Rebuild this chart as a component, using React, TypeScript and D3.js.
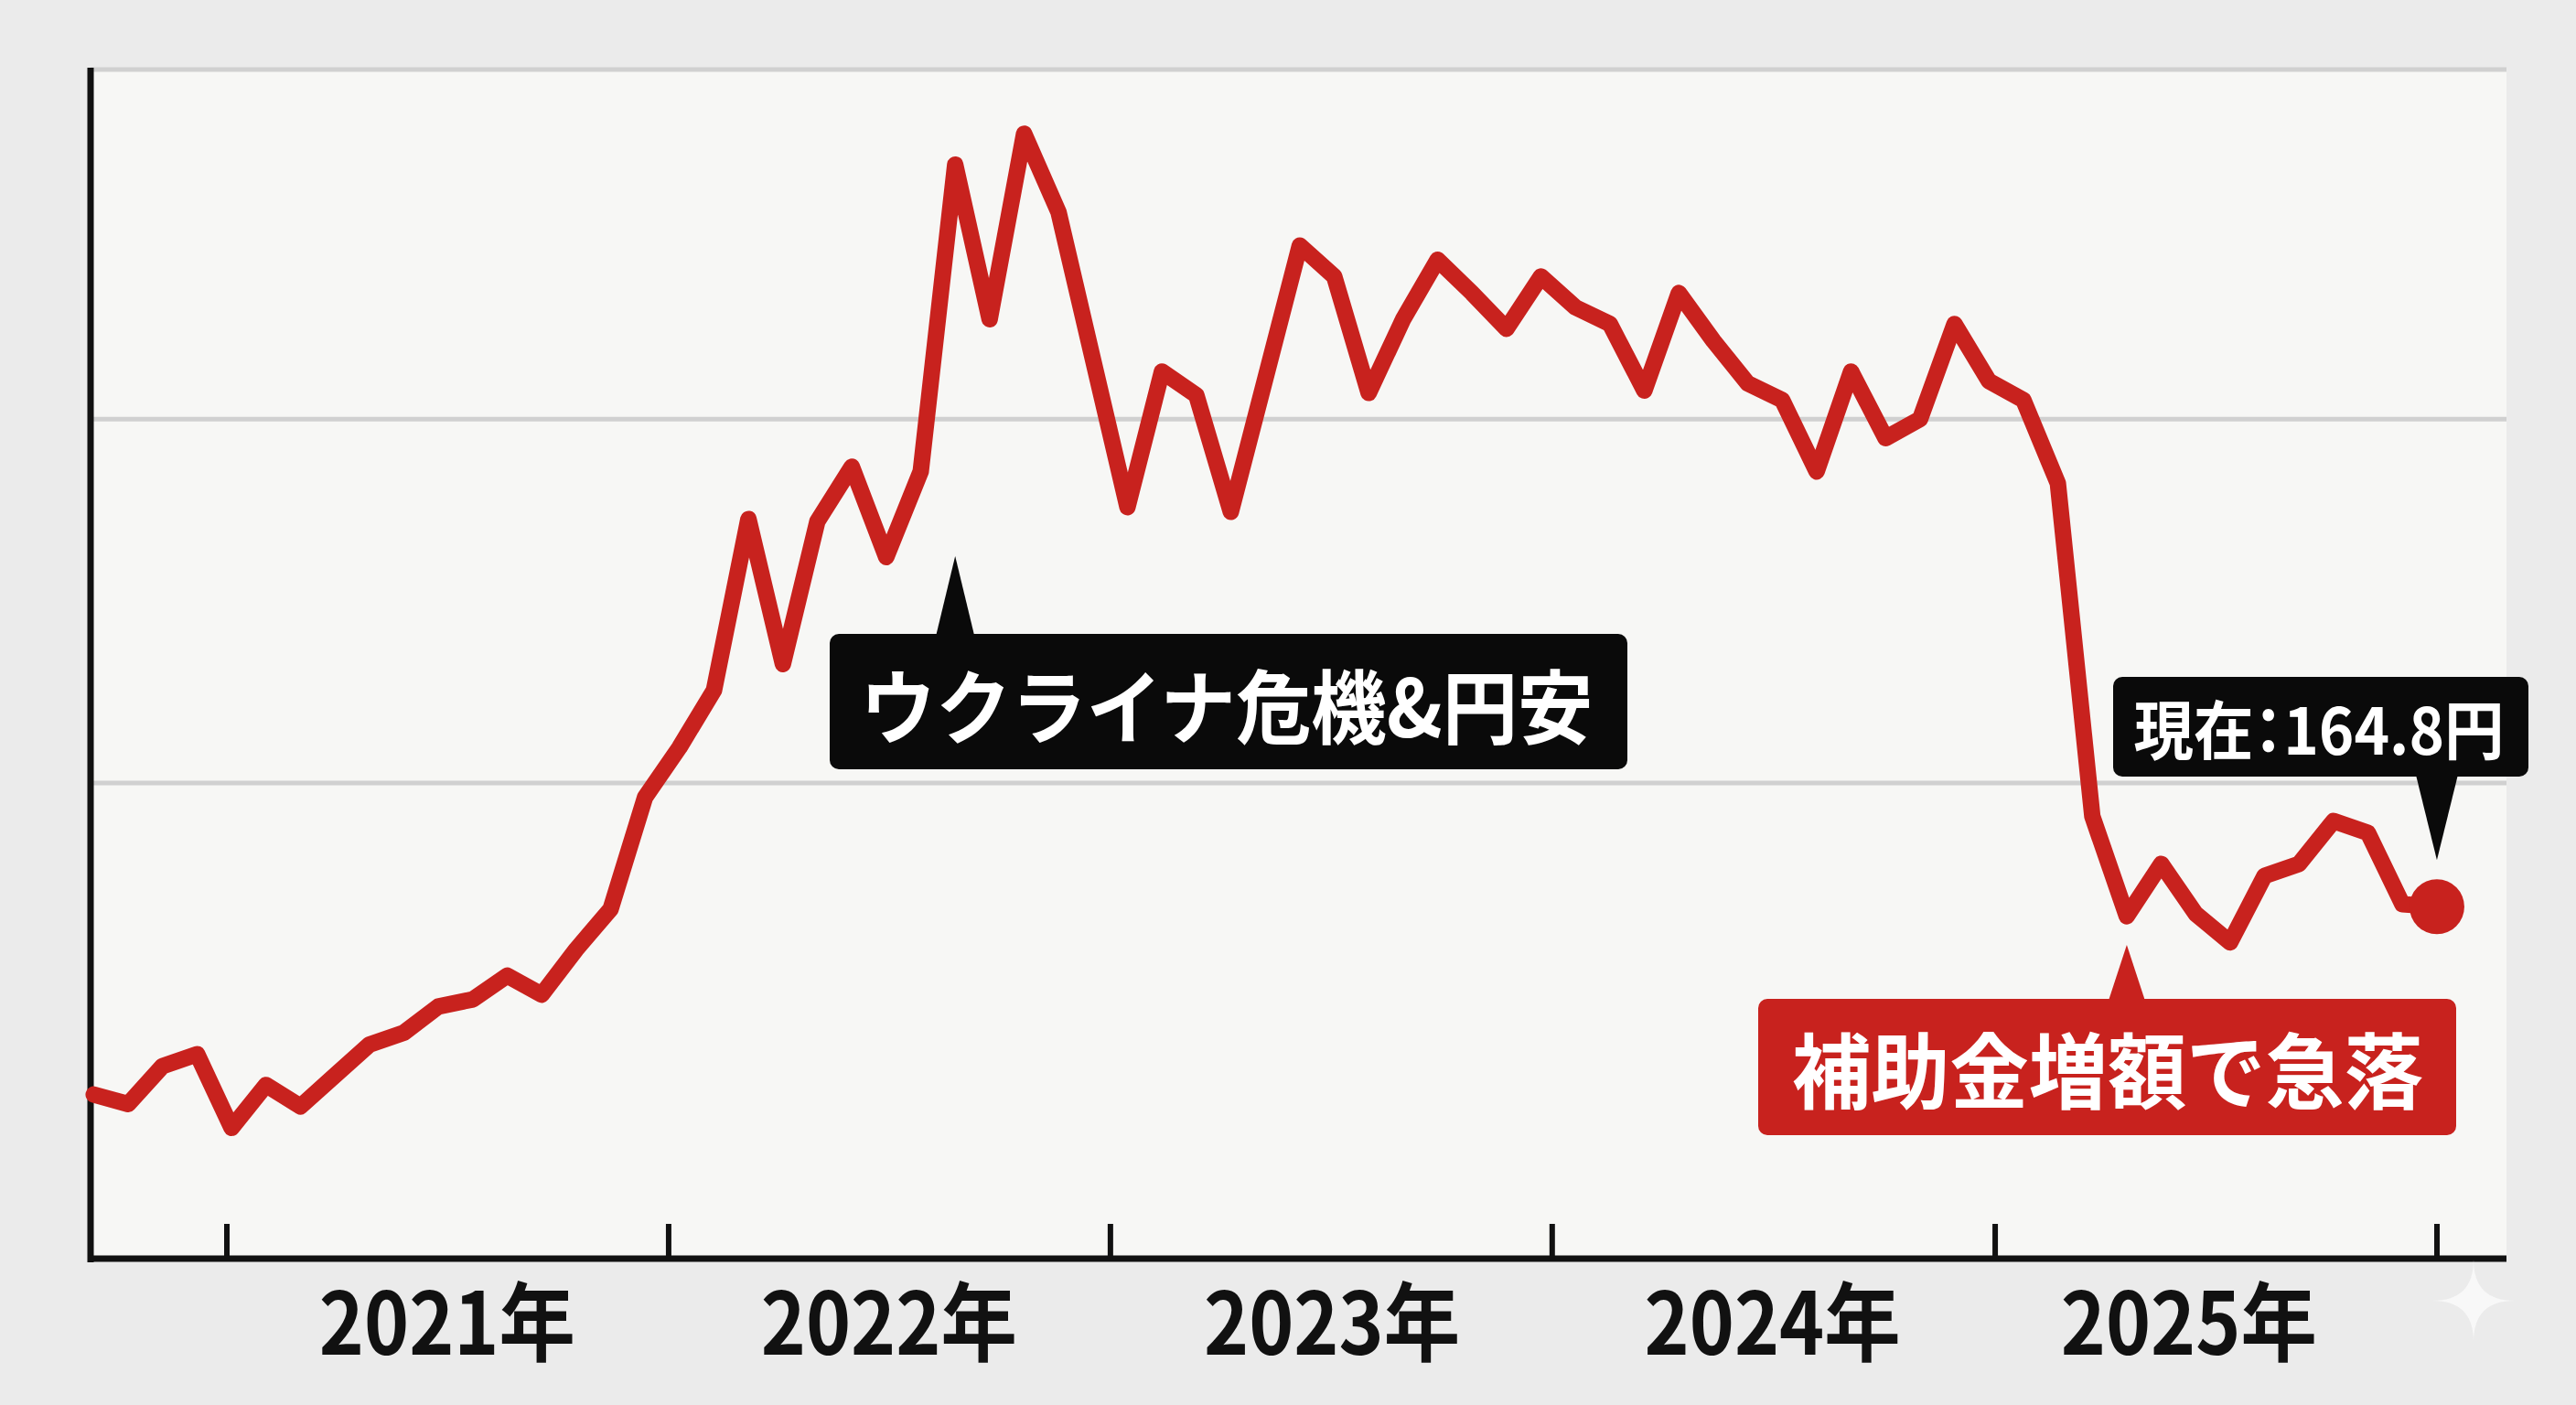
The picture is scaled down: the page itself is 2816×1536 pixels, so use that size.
import React from 'react';
import * as d3 from 'd3';

// ---- data (gasoline price, 円/L) ----
const startDate = new Date(2020, 8, 13);
const stepDays = 28.47;
const prices = [
  156.9, 156.5, 158.1, 158.6, 155.5, 157.3, 156.4, 157.7, 159.0, 159.5,
  160.6, 160.9, 161.9, 161.1, 163.0, 164.7, 169.4, 171.5, 173.9, 181.1,
  175.0, 181.0, 183.3, 179.5, 183.1, 196.0, 189.5, 197.3, 194.0, 187.8,
  181.6, 187.3, 186.3, 181.4, 187.0, 192.6, 191.3, 186.4, 189.5, 192.0,
  190.6, 189.1, 191.3, 190.0, 189.3, 186.5, 190.6, 188.6, 186.8, 186.1,
  183.1, 187.3, 184.5, 185.3, 189.3, 186.9, 186.1, 182.6, 168.6, 164.4,
  166.6, 164.5, 163.3, 166.1, 166.6, 168.4, 167.9, 164.9, 164.8,
];
const yearTicks = [2021, 2022, 2023, 2024, 2025, 2026];
const yearLabels = ['2021年', '2022年', '2023年', '2024年', '2025年'];
const yearLabelDates = [[2021, 6, 2], [2022, 6, 2], [2023, 6, 3], [2024, 6, 1], [2025, 5, 10]];
const gridValues = [170, 185.3, 200];
const annoUkraine = 'ウクライナ危機&円安';
const annoSubsidy = '補助金増額で急落';
const annoCurrent = '現在：164.8円';
const idxUkraine = 25;
const idxSubsidy = 59;

const W = 2816;
const H = 1536;
const PL = 99, PR = 2740, PT = 76, PB = 1376;
const RED = '#c8221e';
const FONT = "'Noto Sans CJK JP', 'Noto Sans', sans-serif";

export default function App() {
  const data = prices.map((v, i) => ({
    t: new Date(startDate.getTime() + i * stepDays * 86400000),
    v,
  }));
  const x = d3.scaleTime()
    .domain([new Date(2021, 0, 1), new Date(2026, 0, 1)])
    .range([248, 2664]);
  const y = d3.scaleLinear().domain([150, 200]).range([PB, PT]);
  const line = d3.line<any>().x(d => x(d.t)).y(d => y(d.v));

  const last = data[data.length - 1];
  const lx = x(last.t), ly = y(last.v);
  const ux = x(data[idxUkraine].t);
  const sx = x(data[idxSubsidy].t);

  return (
    <svg width={W} height={H} style={{ position: 'absolute', left: 0, top: 0 }}>
      <rect x={0} y={0} width={W} height={H} fill="#ebebeb" />
      <rect x={PL} y={PT} width={PR - PL} height={PB - PT} fill="#f7f7f5" />
      {gridValues.map(g => (
        <line key={g} x1={PL} x2={PR} y1={y(g)} y2={y(g)} stroke="#d0d0d0" strokeWidth={5} />
      ))}
      {/* axes */}
      <line x1={PL} x2={PL} y1={PT - 2} y2={PB + 4} stroke="#111" strokeWidth={7} />
      <line x1={PL - 3} x2={PR} y1={PB} y2={PB} stroke="#111" strokeWidth={7} />
      {yearTicks.map(yr => {
        const tx = x(new Date(yr, 0, 1));
        return <line key={yr} x1={tx} x2={tx} y1={PB} y2={PB - 38} stroke="#111" strokeWidth={6} />;
      })}
      {yearLabels.map((lab, i) => {
        const [yy, mm, dd] = yearLabelDates[i];
        const cx = x(new Date(yy, mm, dd));
        return (
          <text key={lab} x={cx} y={1481} textAnchor="middle" fontFamily={FONT} fontWeight={700}
            fontSize={94} fill="#111" textLength={280} lengthAdjust="spacingAndGlyphs">{lab}</text>
        );
      })}

      {/* line */}
      <path d={line(data) || ''} fill="none" stroke={RED} strokeWidth={18}
        strokeLinejoin="round" strokeLinecap="round" />
      <circle cx={lx} cy={ly} r={30} fill={RED} />

      {/* Ukraine annotation */}
      <g>
        <path d={`M${ux - 21},695 L${ux},608 L${ux + 21},695 Z`} fill="#0a0a0a" />
        <rect x={907} y={693} width={872} height={148} rx={10} fill="#0a0a0a" />
        <text x={1341} y={767} textAnchor="middle" dominantBaseline="central" fontFamily={FONT}
          fontWeight={700} fontSize={88} fill="#fff" textLength={801} lengthAdjust="spacingAndGlyphs">{annoUkraine}</text>
      </g>

      {/* subsidy annotation */}
      <g>
        <path d={`M${sx - 20},1094 L${sx},1033 L${sx + 20},1094 Z`} fill={RED} />
        <rect x={1922} y={1092} width={763} height={149} rx={10} fill={RED} />
        <text x={2304} y={1166} textAnchor="middle" dominantBaseline="central" fontFamily={FONT}
          fontWeight={700} fontSize={90} fill="#fff" textLength={690} lengthAdjust="spacingAndGlyphs">{annoSubsidy}</text>
      </g>

      {/* current annotation */}
      <g>
        <path d={`M${lx - 23},847 L${lx},${ly - 51} L${lx + 23},847 Z`} fill="#0a0a0a" />
        <rect x={2310} y={740} width={454} height={109} rx={10} fill="#0a0a0a" />
        <text x={2535} y={794} textAnchor="middle" dominantBaseline="central" fontFamily={FONT}
          fontWeight={700} fontSize={70} fill="#fff" textLength={405} lengthAdjust="spacingAndGlyphs"
          style={{ fontFeatureSettings: '"palt"' }}>{annoCurrent}</text>
      </g>

      {/* sparkle mark */}
      <path transform="translate(2704,1422)" d="M0,-45 Q0,0 45,0 Q0,0 0,45 Q0,0 -45,0 Q0,0 0,-45 Z"
        fill="#f8f8f8" />
    </svg>
  );
}
